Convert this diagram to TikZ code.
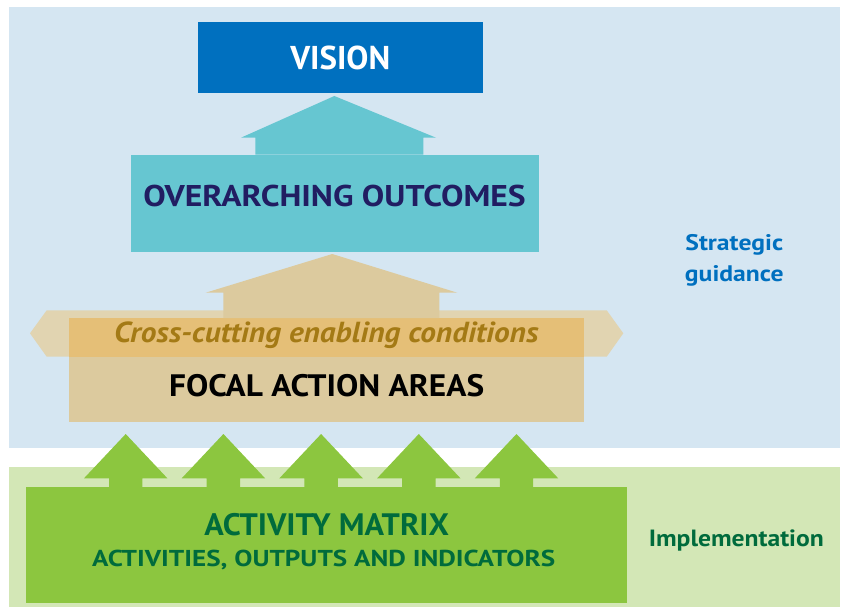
\documentclass[tikz,border=0pt]{standalone}
\usepackage{fontspec}
\setmainfont{PT Sans}
\usetikzlibrary{calc}

\definecolor{panelblue}{HTML}{D5E6F2}
\definecolor{panelgreen}{HTML}{D3E7B6}
\definecolor{visionblue}{HTML}{0070BF}
\definecolor{teal}{HTML}{66C6D1}
\definecolor{navy}{HTML}{211D62}
\definecolor{tan}{HTML}{DCCA9E}
\definecolor{paletan}{HTML}{E1D4B1}
\definecolor{ochre}{HTML}{E5BF77}
\definecolor{ochretext}{HTML}{A47A15}
\definecolor{leaf}{HTML}{8CC63F}
\definecolor{forest}{HTML}{006B3C}

\newcommand\fsz[1]{\fontsize{#1}{#1}\selectfont}
% horizontally widened text
\newcommand\wide[2]{\scalebox{#1}[1]{#2}}

\begin{document}
\begin{tikzpicture}[x=1pt,y=-1pt,
  every node/.style={inner sep=0pt, outer sep=0pt},
  box/.style={anchor=north west, draw=none},
  lbl/.style={anchor=base, font=\bfseries},
  side/.style={anchor=base, font=\bfseries\fsz{23}}]

\useasboundingbox[fill=white] (0,0) rectangle (846,607);

% background panels
\fill[panelblue]  (9,7)     rectangle (840,447.7);
\fill[panelgreen] (9,466.7) rectangle (840,607);

% top level
\node[box, fill=visionblue, minimum width=284.7pt, minimum height=70.7pt] (vision) at (198,22) {};
\node[box, fill=teal, minimum width=408.3pt, minimum height=97pt] (outcomes) at (130.7,154.7) {};

% block arrow: outcomes -> vision
\fill[teal] (outcomes.north -| 255.3,0) -- (255.3,137.7) -- (241,137.7)
  -- ($(vision.south)+(-6,3.3)$) -- (436,137.7) -- (423.3,137.7)
  -- (outcomes.north -| 423.3,0) -- cycle;

% cross-cutting band
\fill[paletan] (30,333.3) -- (46.7,310.3) -- (606.7,310.3) -- (623.3,333.3)
  -- (606.7,356.7) -- (46.7,356.7) -- cycle;

% focal action areas
\node[box, fill=tan, minimum width=515.3pt, minimum height=103.7pt] (focal) at (69,318) {};
\fill[ochre] (focal.north west) rectangle (584.3,356.7);

% block arrow: focal -> outcomes
\fill[tan] (focal.north -| 223.3,0) -- (223.3,292.7) -- (205.7,292.7)
  -- ($(outcomes.south)+(-2.6,2.3)$) -- (457.3,292.7) -- (439.3,292.7)
  -- (focal.north -| 439.3,0) -- cycle;

% activity matrix
\node[box, fill=leaf, minimum width=601pt, minimum height=115.7pt] (matrix) at (26,487) {};

% five block arrows: matrix -> focal
\foreach \cx [count=\i] in {125.7,223.4,321.1,418.8,516.5}{
  \fill[leaf] ($(matrix.north west -| \cx,0)+(-16.7,0)$) -- ++(0,-8.7) -- ++(-25,0)
    -- (\cx,434) -- ($(\cx,478.3)+(41.7,0)$) -- ++(-25,0)
    -- ($(matrix.north west -| \cx,0)+(16.7,0)$) -- cycle;
}

% labels
\node[lbl, text=white, font=\bfseries\fsz{33}] (tvision) at (340.3,70) {VISION};
\node[lbl, text=navy, font=\bfseries\fsz{30}] (toutcomes) at (334.5,206.7) {\wide{1.12}{OVERARCHING OUTCOMES}};
\node[lbl, text=ochretext, font=\bfseries\itshape\fsz{29}] (tband) at (326.3,342.7) {\wide{1.08}{Cross-cutting enabling conditions}};
\node[lbl, text=black, font=\bfseries\fsz{31}] (tfocal) at (326.7,396) {\wide{1.075}{FOCAL ACTION AREAS}};
\node[lbl, text=forest, font=\bfseries\fsz{31}] (tmatrix) at (326.7,535.7) {\wide{1.04}{ACTIVITY MATRIX}};
\node[lbl, text=forest, font=\bfseries\fsz{23}] (tmatrix2) at (323.7,566.7) {\wide{1.18}{ACTIVITIES, OUTPUTS AND INDICATORS}};

\node[side, text=visionblue, font=\bfseries\fsz{22.5}] (tstrat) at (734.3,250.7) {\wide{1.14}{Strategic}};
\node[side, text=visionblue, font=\bfseries\fsz{22.5}] (tguid) at (734.3,281.7) {\wide{1.14}{guidance}};
\node[side, text=forest, font=\bfseries\fsz{23.5}] (timpl) at (736.3,546) {\wide{1.09}{Implementation}};

\end{tikzpicture}
\end{document}
